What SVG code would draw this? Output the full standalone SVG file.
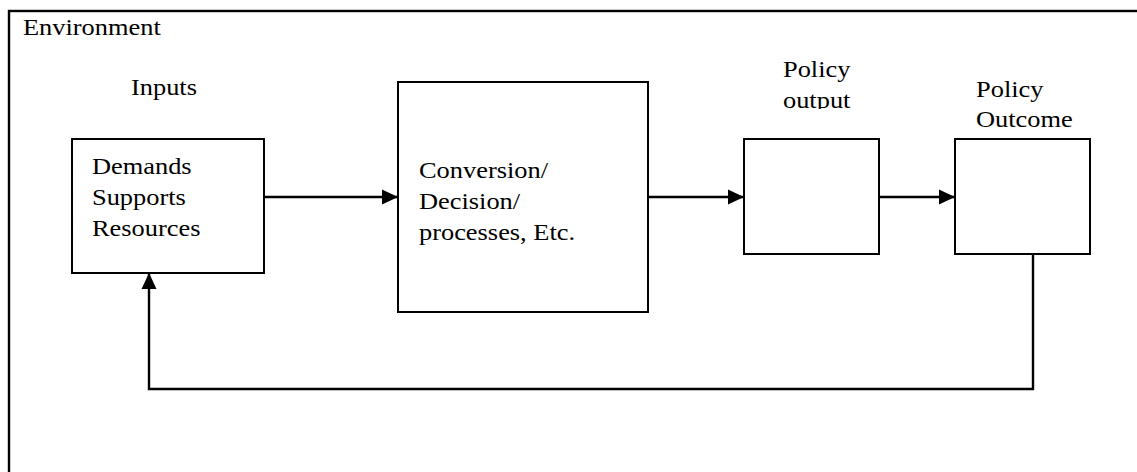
<svg xmlns="http://www.w3.org/2000/svg" width="1137" height="472" viewBox="0 0 1137 472">
  <style>
    .frame { fill: none; stroke: #000; stroke-width: 2.4; }
    .box { fill: #fff; stroke: #000; stroke-width: 2; }
    .link { fill: none; stroke: #000; stroke-width: 2.4; }
    text { font-family: "Liberation Serif", "Times New Roman", serif; font-size: 24px; fill: #000; }
  </style>
  <defs>
    <marker id="arrow" markerUnits="userSpaceOnUse" markerWidth="17" markerHeight="17" viewBox="0 0 17 17" refX="16" refY="8.5" orient="auto">
      <path d="M0,1 L16,8.5 L0,16 Z" fill="#000"/>
    </marker>
    <clipPath id="outputClip">
      <rect x="770" y="50" width="120" height="59"/>
    </clipPath>
  </defs>

  <rect width="1137" height="472" fill="#fff"/>

  <!-- environment frame (runs off the right and bottom edges) -->
  <g id="environment">
    <rect class="frame" x="9" y="11" width="1140" height="480"/>
    <!-- labels are set slightly wide: x values are divided by the 1.1 stretch -->
    <text transform="scale(1.1 1)" x="20.9" y="35">Environment</text>
  </g>

  <g id="inputs">
    <rect class="box" x="72" y="139" width="192" height="134"/>
    <g transform="scale(1.1 1)">
      <text x="119.1" y="95">Inputs</text>
      <text x="83.6" y="174">Demands</text>
      <text x="83.6" y="205">Supports</text>
      <text x="83.6" y="236">Resources</text>
    </g>
  </g>

  <g id="conversion">
    <rect class="box" x="398" y="82" width="250" height="230"/>
    <g transform="scale(1.1 1)">
      <text x="380.9" y="178">Conversion/</text>
      <text x="380.9" y="209">Decision/</text>
      <text x="380.9" y="240">processes, Etc.</text>
    </g>
  </g>

  <g id="policy-output">
    <g clip-path="url(#outputClip)">
      <g transform="scale(1.1 1)">
        <text x="711.8" y="77">Policy</text>
        <text x="711.8" y="108">output</text>
      </g>
    </g>
    <rect class="box" x="744" y="139" width="135" height="115"/>
  </g>

  <g id="policy-outcome">
    <g transform="scale(1.1 1)">
      <text x="887.3" y="97">Policy</text>
      <text x="887.3" y="127">Outcome</text>
    </g>
    <rect class="box" x="955" y="139" width="135" height="115"/>
  </g>

  <g id="connectors">
    <line class="link" x1="264" y1="197" x2="398" y2="197" marker-end="url(#arrow)"/>
    <line class="link" x1="648" y1="197" x2="744" y2="197" marker-end="url(#arrow)"/>
    <line class="link" x1="879" y1="197" x2="955" y2="197" marker-end="url(#arrow)"/>
    <polyline class="link" points="1033,254 1033,389 149,389 149,273" marker-end="url(#arrow)"/>
  </g>
</svg>
